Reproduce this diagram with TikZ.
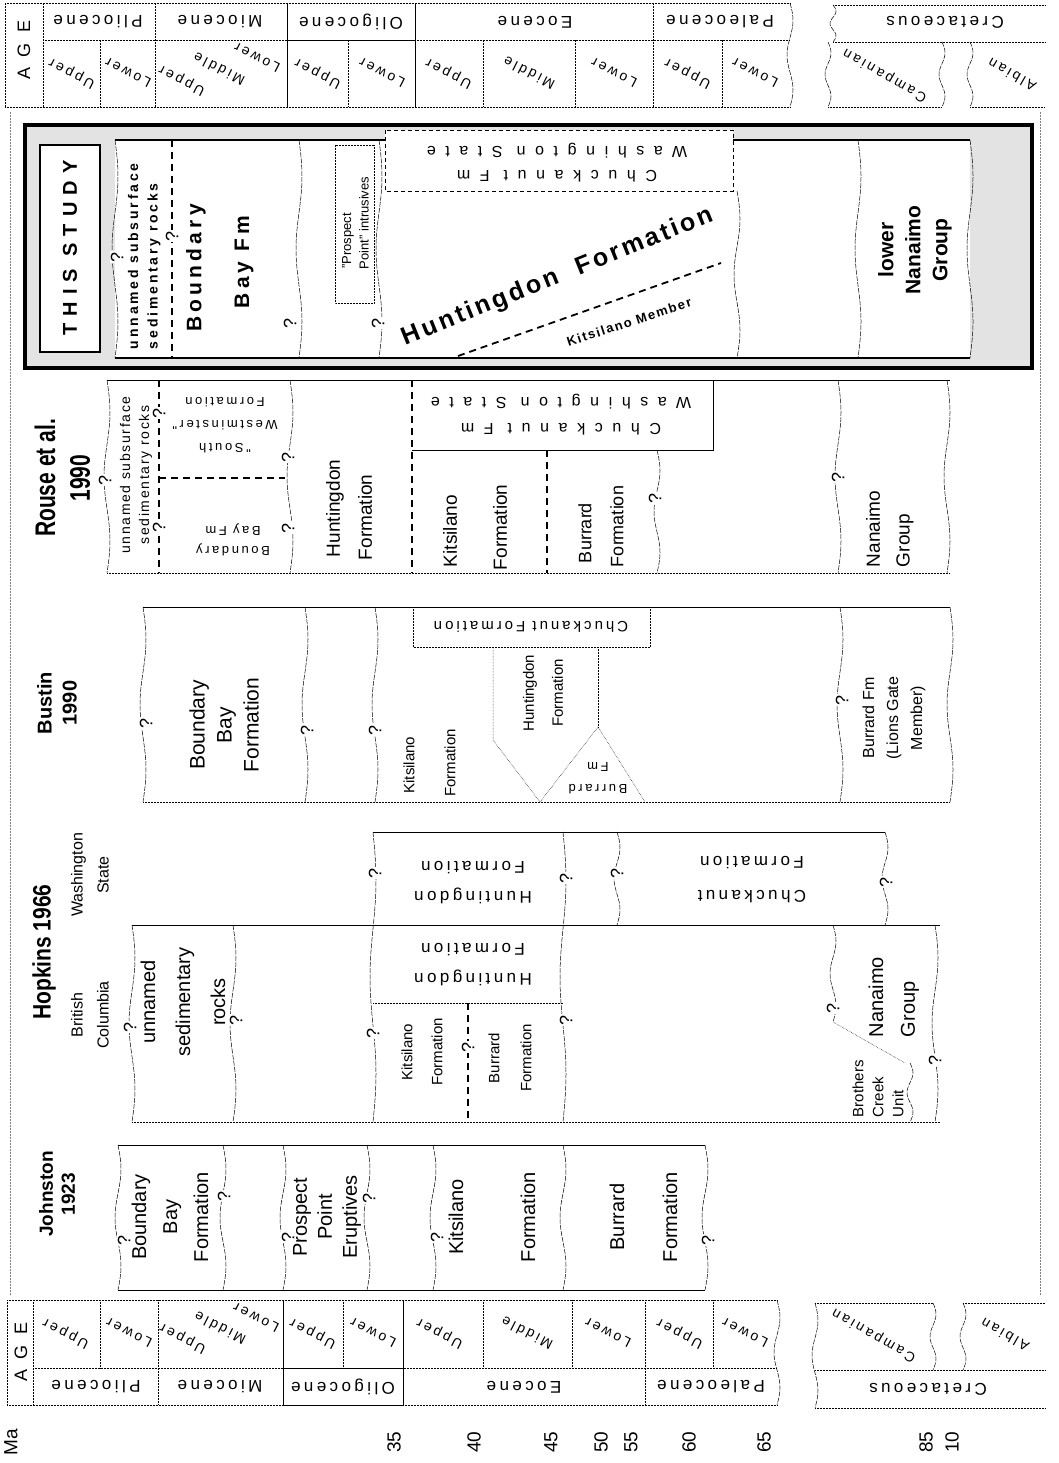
\documentclass[tikz,border=0pt]{standalone}
\usepackage{fontspec}
\setmainfont{Liberation Sans}
\newfontfamily\spA[LetterSpace=20]{Liberation Sans}
\newfontfamily\spB[LetterSpace=60]{Liberation Sans}
\newfontfamily\spC[LetterSpace=12]{Liberation Sans}
\newfontfamily\spD[LetterSpace=35]{Liberation Sans}
\newcommand\fs[2]{\fontsize{#1}{#2}\selectfont}
\newcommand\wv[3]{\draw[wavy] plot[domain=#2:#3,samples=25,smooth,variable=\t] ({#1+3*sin((\t-#2)/(#3-#2)*540)},\t);}
\begin{document}
\begin{tikzpicture}[x=1pt,y=-1pt,
  every node/.style={inner sep=0pt, outer sep=0pt},
  ln/.style={line width=0.7pt},
  dot/.style={line width=0.5pt, densely dotted},
  wavy/.style={line width=0.5pt, dash pattern=on 5pt off 1.2pt},
  dsh/.style={line width=1.8pt, dash pattern=on 7pt off 5pt},
  vt/.style={rotate=90, align=center},
  ud/.style={rotate=180, align=center},
  q/.style={rotate=90, fill=white, inner sep=1pt, font=\fs{18}{20}},
  hdr/.style={rotate=90, align=center, font=\bfseries\fs{21}{23}},
  sub/.style={rotate=153, font=\spA\fs{14}{16}},
  ep/.style={rotate=180, font=\spA\fs{17}{20}},
]
\useasboundingbox (0,0) rectangle (1058,1463);
% frame
\draw[dot,gray] (10,112) -- (10,1295);
\draw[dot,gray] (1040,112) -- (1040,1295);

% ================= TOP AGE
\draw[dot] (5,3) -- (790,3); \draw[dot] (43,40) -- (790,40); \draw[dot] (5,107) -- (790,107);
\draw[dot] (5,3) -- (5,107);
\foreach \x in {43,155,653} \draw[dot] (\x,3) -- (\x,107);
\foreach \x in {287,415} \draw[ln] (\x,3) -- (\x,107);
\draw[ln] (287,40) -- (415,40);
\foreach \x in {100,348,483,575,722} \draw[dot] (\x,40) -- (\x,107);
\wv{790}{3}{107}
\draw[dot] (833,5) -- (1045,5); \draw[dot] (833,42) -- (1045,42);
\draw[dot] (828,107) -- (942,107); \draw[dot] (970,107) -- (1045,107);
\wv{833}{5}{42} \wv{828}{42}{107} \wv{942}{42}{107} \wv{970}{42}{107}
\node[rotate=90,font=\spB\fs{18}{20}] (tage) at (24,50) {AGE};
\node[ep] (tpl) at (98,22) {Pliocene};
\node[ep] (tmi) at (220,22) {Miocene};
\node[ep] (tol) at (351,22) {Oligocene};
\node[ep] (teo) at (535,22) {Eocene};
\node[ep] (tpa) at (720,22) {Paleocene};
\node[ep] (tcr) at (945,22) {Cretaceous};
\node[sub] (tu1) at (72,73) {Upper};
\node[sub] (tl1) at (128,73) {Lower};
\node[sub] (tu2) at (182,80) {Upper};
\node[sub] (tm2) at (219,69) {Middle};
\node[sub] (tl2) at (257,58) {Lower};
\node[sub] (tu3) at (318,73) {Upper};
\node[sub] (tl3) at (382,73) {Lower};
\node[sub] (tu4) at (449,73) {Upper};
\node[sub] (tm4) at (529,73) {Middle};
\node[sub] (tl4) at (614,73) {Lower};
\node[sub] (tu5) at (688,73) {Upper};
\node[sub] (tl5) at (755,73) {Lower};
\node[sub,rotate=-3] (tca) at (885,75) {Campanian};
\node[sub,rotate=-3] (tal) at (1012,75) {Albian};

% ================= THIS STUDY
\draw[line width=3.5pt, fill=gray!22] (25,125) rectangle (1032,368);
\draw[line width=2pt, fill=white] (40,145) rectangle (100,352);
\node[rotate=90,font=\spD\bfseries\fs{20}{22}] (ts) at (70,248) {THIS STUDY};
\fill[white] (115,140) rectangle (970,358);
\draw[line width=1.2pt] (115,140) -- (385,140);
\draw[line width=1.2pt] (733,140) -- (970,140);
\draw[line width=1.2pt] (115,358) -- (970,358);
\draw[line width=0.9pt, dash pattern=on 4pt off 3pt, fill=white] (385,130) rectangle (733,191);
\wv{115}{140}{358} \wv{299}{140}{358} \wv{379}{140}{358} \wv{737}{191}{358}
\wv{858}{140}{358} \wv{970}{140}{358}
\draw[dsh] (172,140) -- (172,358);
\node[vt,anchor=west,font=\spA\bfseries\fs{14}{16}] (s1a) at (133,349) {unnamed subsurface};
\node[vt,anchor=west,font=\spA\bfseries\fs{14}{16}] (s1b) at (154,349) {sedimentary rocks};
\node[q] (sq1) at (117,257) {?};
\node[q] (sq2) at (172,236) {?};
\node[vt,font=\spA\bfseries\fs{21}{24}] (s2) at (196,268) {Boundary};
\node[vt,font=\spA\bfseries\fs{21}{24}] (s3) at (244,262) {Bay Fm};
\node[q] (sq3) at (290,323) {?};
\draw[dot,fill=white] (335,145) rectangle (374,303);
\node[vt,font=\fs{13}{15}] (s4) at (348,241) {"Prospect};
\node[vt,font=\fs{13}{15}] (s5) at (364,223) {Point" intrusives};
\node[q] (sq4) at (378,323) {?};
\node[ud,font=\spB\fs{16}{24}] (s6) at (557,163) {Chuckanut Fm\\Washington State};
\node[rotate=22,font=\spC\bfseries\fs{25}{27}] (s7) at (558,277) {Huntingdon\hspace{20pt}Formation};
\draw[dsh] (458,356) -- (721,263);
\node[rotate=18,font=\spC\bfseries\fs{13}{15}] (s8) at (629,322) {Kitsilano Member};
\node[vt,font=\bfseries\fs{21}{27}] (s9) at (915,250) {lower\\Nanaimo\\Group};

% ================= ROUSE
\node[hdr,yscale=1.35] (rh1) at (45,478) {Rouse et al.};
\node[hdr,yscale=1.35] (rh2) at (80,478) {1990};
\draw[ln] (107,380) -- (950,380);
\draw[dot] (107,573) -- (950,573);
\wv{107}{380}{573} \wv{290}{380}{573} \wv{657}{450}{573} \wv{838}{380}{573} \wv{947}{380}{573}
\draw[ln] (412,380) -- (713,380) -- (713,450) -- (412,450);
\draw[dsh] (159,380) -- (159,573);
\draw[dsh] (159,478) -- (285,478);
\draw[dsh] (412,380) -- (412,573);
\draw[dsh] (547,450) -- (547,573);
\node[vt,font=\spC\fs{14}{19}] (r1) at (136,475) {unnamed subsurface\\sedimentary rocks};
\node[ud,font=\spA\fs{13}{23}] (r2) at (225,425) {"South\\Westminster"\\Formation};
\node[ud,font=\spA\fs{13}{20}] (r3) at (233,540) {Boundary\\Bay Fm};
\node[ud,font=\spB\fs{16}{26}] (r4) at (561,415) {Chuckanut Fm\\Washington State};
\node[vt,anchor=west,font=\fs{19}{21}] (r5) at (335,557) {Huntingdon};
\node[vt,anchor=west,font=\fs{19}{21}] (r6) at (365,560) {Formation};
\node[vt,anchor=west,font=\fs{19}{21}] (r7) at (450,567) {Kitsilano};
\node[vt,anchor=west,font=\fs{19}{21}] (r8) at (500,570) {Formation};
\node[vt,anchor=west,font=\fs{18}{21}] (r9) at (585,563) {Burrard};
\node[vt,anchor=west,font=\fs{18}{21}] (r10) at (617,567) {Formation};
\node[vt,anchor=west,font=\fs{19}{21}] (r11) at (873,567) {Nanaimo};
\node[vt,anchor=west,font=\fs{19}{21}] (r12) at (905,567) {Group};
\node[q] (rq1) at (105,480) {?};
\node[q] (rq2) at (159,413) {?};
\node[q] (rq3) at (159,527) {?};
\node[q] (rq4) at (288,457) {?};
\node[q] (rq5) at (288,528) {?};
\node[q] (rq6) at (655,498) {?};
\node[q] (rq7) at (838,477) {?};

% ================= BUSTIN
\node[hdr,font=\bfseries\fs{20}{25}] (bh) at (57,703) {Bustin\\1990};
\draw[ln] (143,607) -- (950,607);
\draw[dot] (143,802) -- (950,802);
\wv{143}{607}{802} \wv{305}{607}{802} \wv{375}{607}{802} \wv{840}{607}{802} \wv{950}{607}{802}
\draw[dot] (413,607) rectangle (650,647);
\node[ud,font=\spA\fs{15}{18}] (b1) at (531,627) {Chuckanut Formation};
\draw[dot] (493,647) -- (493,740) -- (540,802) -- (598,727) -- (645,802);
\draw[dot] (598,647) -- (598,727);
\node[vt,font=\fs{21}{27}] (b2) at (224,725) {Boundary\\Bay\\Formation};
\node[vt,font=\fs{15}{17}] (b3) at (409,765) {Kitsilano};
\node[vt,font=\fs{15}{17}] (b4) at (450,763) {Formation};
\node[vt,font=\fs{15}{29}] (b5) at (543,693) {Huntingdon\\Formation};
\node[ud,font=\spA\fs{13}{22}] (b6) at (598,778) {Burrard\\Fm};
\node[vt,font=\fs{16}{24}] (b7) at (894,718) {Burrard Fm\\(Lions Gate\\Member)};
\node[q] (bq1) at (146,723) {?};
\node[q] (bq2) at (307,730) {?};
\node[q] (bq3) at (375,730) {?};
\node[q] (bq4) at (842,700) {?};

% ================= HOPKINS
\node[hdr,yscale=1.2] (hh) at (44,952) {Hopkins 1966};
\node[vt,font=\fs{16}{26}] (h1) at (90,1015) {British\\Columbia};
\node[vt,font=\fs{16}{26}] (h2) at (90,875) {Washington\\State};
\draw[ln] (373,832) -- (885,832);
\draw[ln] (132,925) -- (940,925);
\draw[dot] (132,1122) -- (940,1122);
\wv{132}{925}{1122} \wv{233}{925}{1122} \wv{373}{832}{1122} \wv{563}{832}{1122}
\wv{617}{832}{925} \wv{885}{832}{925} \wv{833}{925}{1022} \wv{910}{1063}{1122} \wv{935}{925}{1122}
\draw[dot] (833,1022) -- (905,1063);
\draw[dot] (373,1003) -- (563,1003);
\draw[dsh] (468,1003) -- (468,1122);
\node[vt,font=\fs{20}{35}] (h3) at (183,1002) {unnamed\\sedimentary\\rocks};
\node[ud,font=\spA\fs{17}{30}] (h4) at (473,965) {Huntingdon\\Formation};
\node[ud,font=\spA\fs{17}{30}] (h5) at (473,883) {Huntingdon\\Formation};
\node[ud,font=\spA\fs{17}{34}] (h6) at (752,880) {Chuckanut\\Formation};
\node[vt,font=\fs{15}{30}] (h7) at (422,1052) {Kitsilano\\Formation};
\node[vt,font=\fs{15}{32}] (h8) at (510,1058) {Burrard\\Formation};
\node[vt,anchor=west,font=\fs{15}{17}] (h9) at (858,1117) {Brothers};
\node[vt,anchor=west,font=\fs{15}{17}] (h10) at (878,1117) {Creek};
\node[vt,anchor=west,font=\fs{15}{17}] (h11) at (898,1117) {Unit};
\node[vt,anchor=west,font=\fs{20}{22}] (h12) at (876,1037) {Nanaimo};
\node[vt,anchor=west,font=\fs{20}{22}] (h13) at (910,1037) {Group};
\node[q] (hq1) at (130,1027) {?};
\node[q] (hq2) at (236,1020) {?};
\node[q] (hq3) at (373,1033) {?};
\node[q] (hq4) at (566,1020) {?};
\node[q] (hq5) at (375,873) {?};
\node[q] (hq6) at (566,878) {?};
\node[q] (hq7) at (617,873) {?};
\node[q] (hq8) at (886,882) {?};
\node[q] (hq9) at (833,1008) {?};
\node[q] (hq10) at (935,1060) {?};
\node[q] (hq11) at (468,1047) {?};

% ================= JOHNSTON
\node[hdr,font=\bfseries\fs{19}{22}] (jh) at (57,1194) {Johnston\\1923};
\draw[ln] (118,1145) -- (705,1145);
\draw[ln] (118,1290) -- (705,1290);
\wv{118}{1145}{1290} \wv{223}{1145}{1290} \wv{283}{1145}{1290} \wv{367}{1145}{1290}
\wv{433}{1145}{1290} \wv{563}{1145}{1290} \wv{705}{1145}{1290}
\node[vt,font=\fs{20}{31}] (j1) at (170,1217) {Boundary\\Bay\\Formation};
\node[vt,font=\fs{20}{25}] (j2) at (327,1217) {Prospect\\Point\\Eruptives};
\node[vt,font=\fs{20}{22}] (j3) at (456,1217) {Kitsilano};
\node[vt,font=\fs{20}{22}] (j4) at (528,1217) {Formation};
\node[vt,font=\fs{20}{22}] (j5) at (617,1217) {Burrard};
\node[vt,font=\fs{20}{22}] (j6) at (670,1217) {Formation};
\node[q] (jq1) at (124,1240) {?};
\node[q] (jq2) at (224,1196) {?};
\node[q] (jq3) at (288,1237) {?};
\node[q] (jq4) at (369,1198) {?};
\node[q] (jq5) at (437,1237) {?};
\node[q] (jq6) at (708,1240) {?};

% ================= BOTTOM AGE
\draw[dot] (7,1300) -- (777,1300); \draw[dot] (33,1368) -- (777,1368); \draw[dot] (7,1405) -- (777,1405);
\draw[dot] (7,1300) -- (7,1405);
\foreach \x in {33,158,645} \draw[dot] (\x,1300) -- (\x,1405);
\foreach \x in {283,403} \draw[ln] (\x,1300) -- (\x,1405);
\draw[ln] (283,1368) -- (403,1368); \draw[ln] (283,1405) -- (403,1405);
\foreach \x in {100,343,483,572,713} \draw[dot] (\x,1300) -- (\x,1368);
\wv{777}{1300}{1405}
\draw[dot] (815,1303) -- (933,1303); \draw[dot] (963,1303) -- (1045,1303);
\draw[dot] (815,1370) -- (1045,1370); \draw[dot] (815,1408) -- (1045,1408);
\wv{815}{1303}{1408} \wv{933}{1303}{1370} \wv{963}{1303}{1370}
\node[rotate=90,font=\spB\fs{18}{20}] (bage) at (21,1352) {AGE};
\node[sub] (bu1) at (66,1333) {Upper};
\node[sub] (bl1) at (129,1333) {Lower};
\node[sub] (bu2) at (183,1338) {Upper};
\node[sub] (bm2) at (220,1328) {Middle};
\node[sub] (bl2) at (256,1318) {Lower};
\node[sub] (bu3) at (313,1333) {Upper};
\node[sub] (bl3) at (373,1333) {Lower};
\node[sub] (bu4) at (440,1333) {Upper};
\node[sub] (bm4) at (527,1333) {Middle};
\node[sub] (bl4) at (608,1333) {Lower};
\node[sub] (bu5) at (680,1333) {Upper};
\node[sub] (bl5) at (745,1333) {Lower};
\node[sub,rotate=-3] (bca) at (874,1335) {Campanian};
\node[sub,rotate=-3] (bal) at (1005,1335) {Albian};
\node[ep] (bpl) at (96,1387) {Pliocene};
\node[ep] (bmi) at (220,1387) {Miocene};
\node[ep] (bol) at (343,1387) {Oligocene};
\node[ep] (beo) at (524,1387) {Eocene};
\node[ep] (bpa) at (711,1387) {Paleocene};
\node[ep] (bcr) at (928,1389) {Cretaceous};

% ================= Ma
\foreach \v/\x [count=\i] in {Ma/11,35/394,40/474,45/551,50/601,55/631,60/689,65/764,85/926,10/952}
  \node[rotate=90,font=\fs{19}{21}] (ma\i) at (\x,1442) {\v};
\end{tikzpicture}
\end{document}
